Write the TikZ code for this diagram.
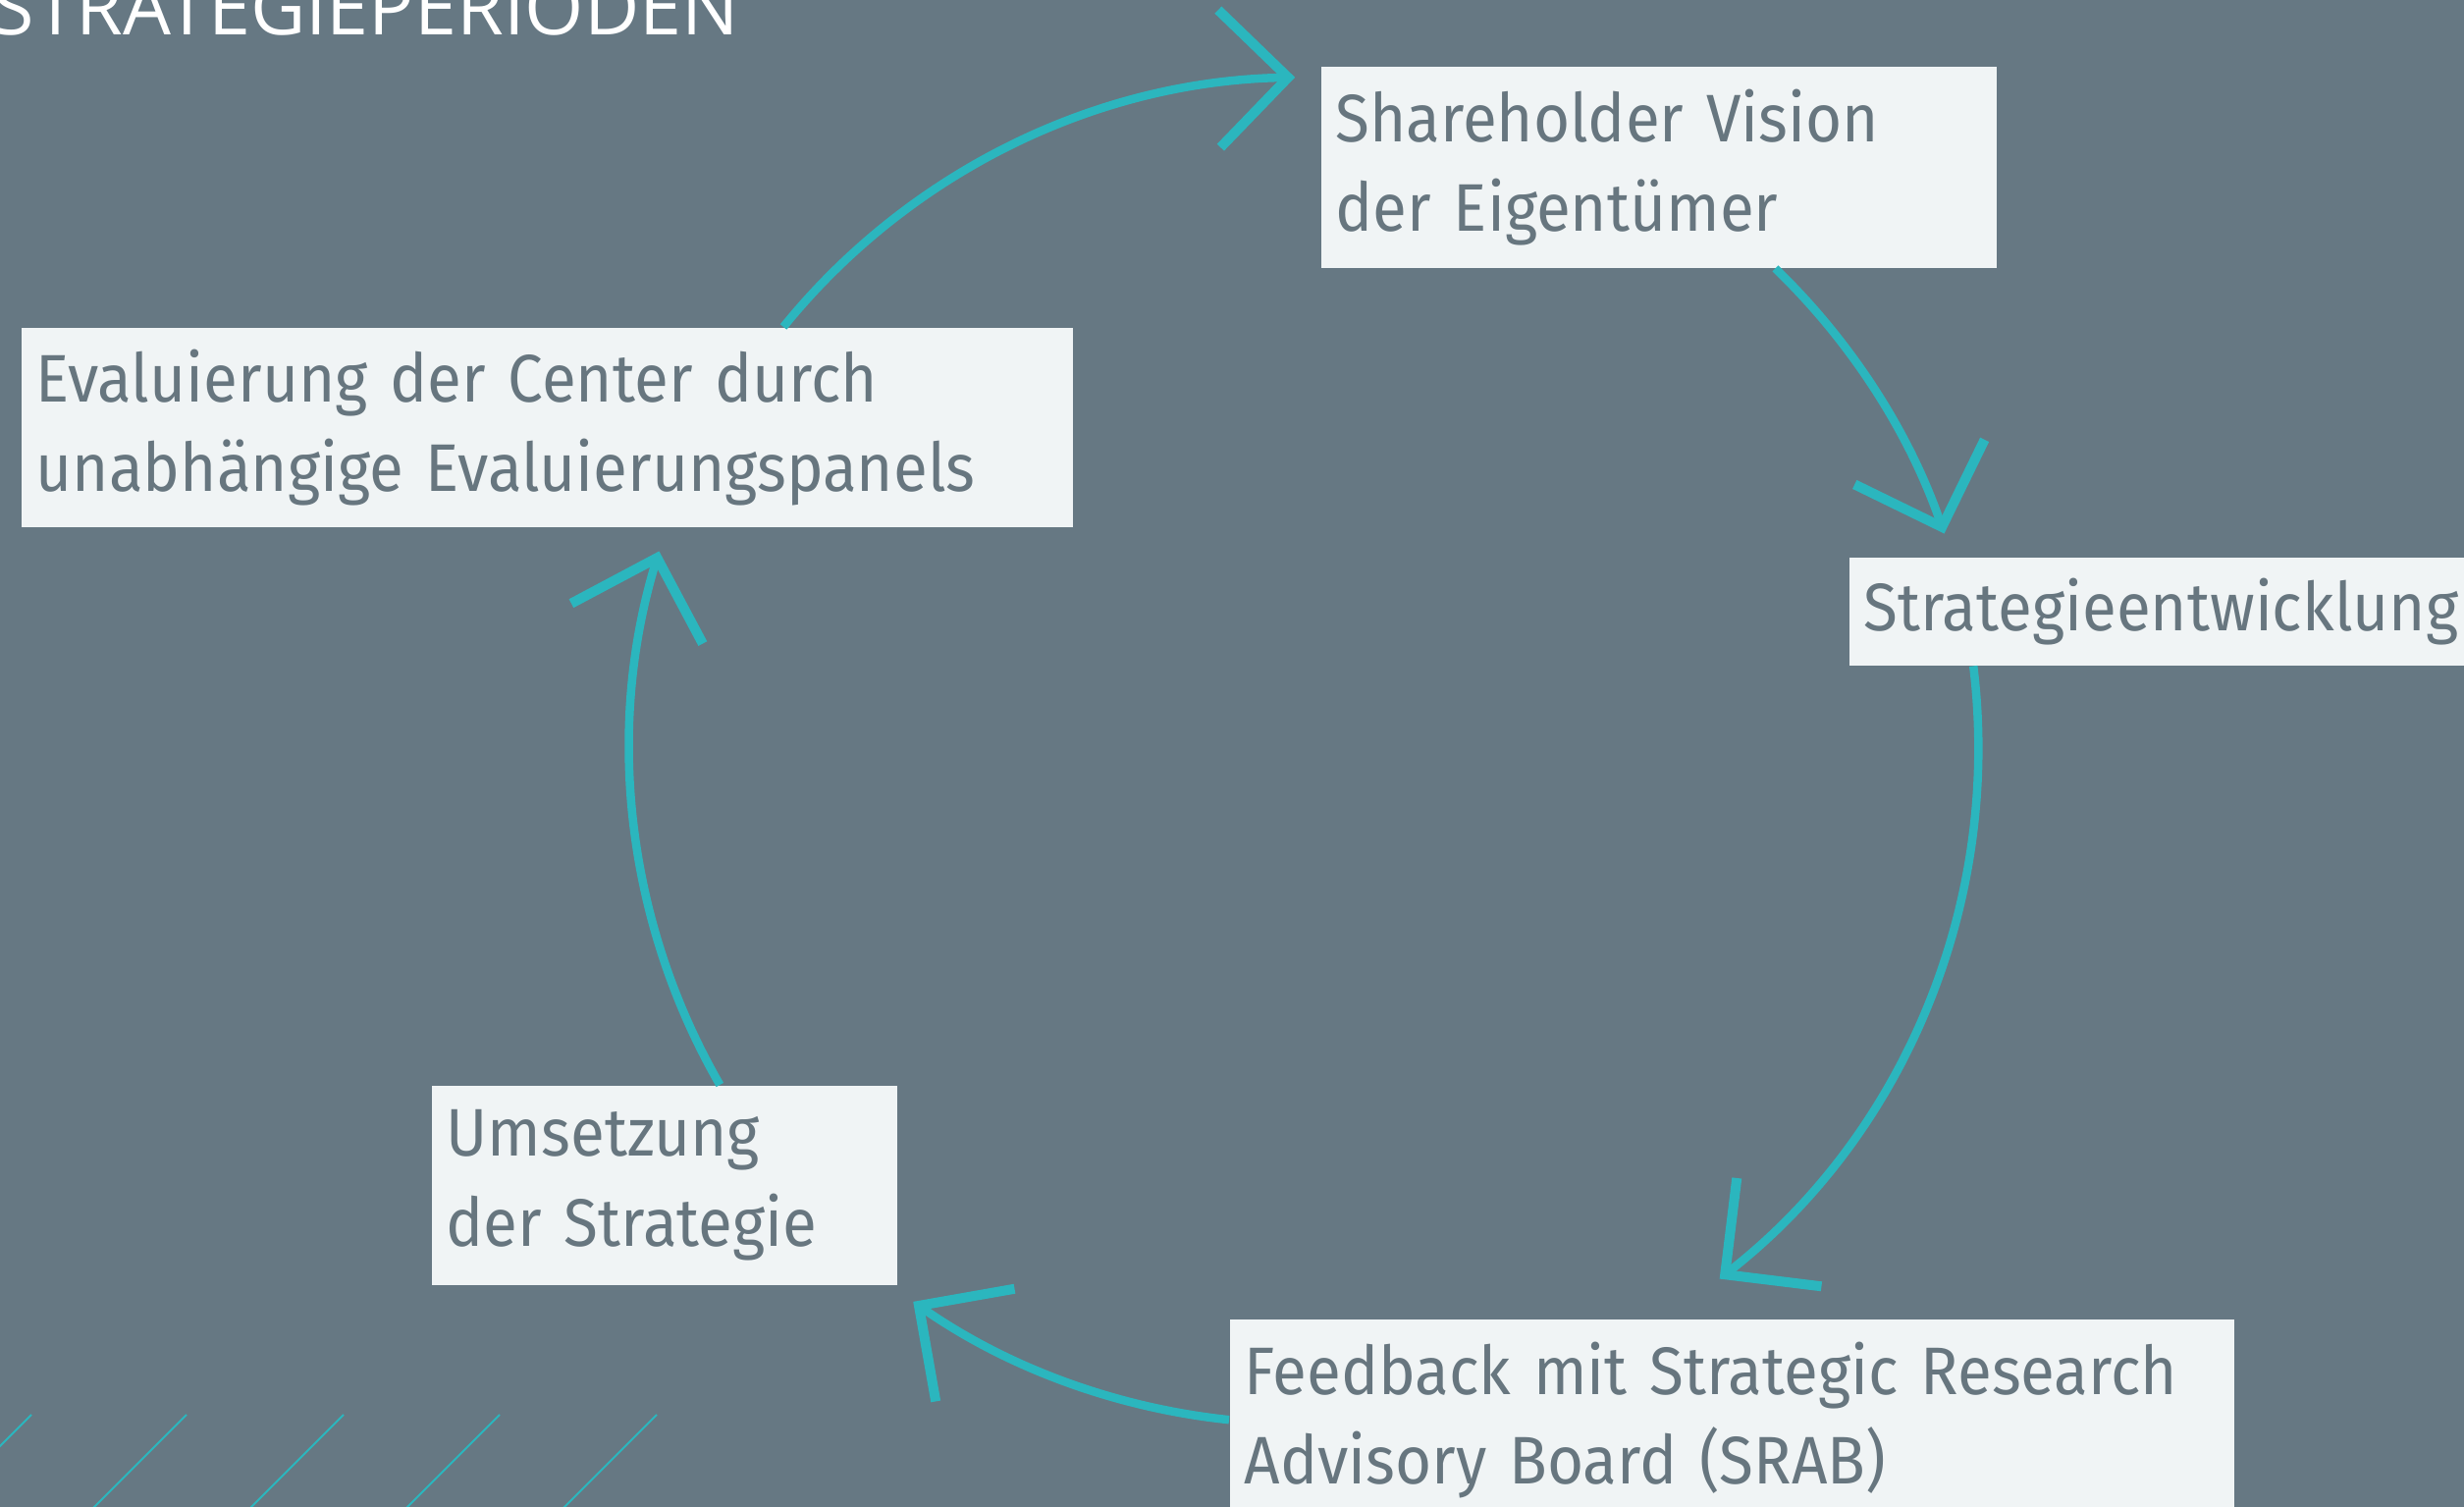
\documentclass[tikz,border=0pt]{standalone}
\usepackage{fontspec}
\setmainfont{Fira Sans}[FakeStretch=0.93]
\newfontfamily\titlefont{Open Sans}
\usetikzlibrary{arrows.meta, calc}
\hyphenpenalty=10000

\definecolor{slate}{HTML}{667883}
\definecolor{ringcyan}{HTML}{2BB6BE}
\definecolor{boxfill}{HTML}{F0F4F5}
\definecolor{boxtext}{HTML}{67767F}

\begin{document}
\begin{tikzpicture}[>={Straight Barb[length=0.7cm, width=1.4cm, line width=0.1cm]},
    stage/.style={fill=boxfill, text=boxtext, anchor=north west, align=left,
        inner xsep=0.15cm, font=\fontsize{19.5}{25.9}\selectfont},
    flow/.style={->, ringcyan, line width=0.085cm}]
    % === Background ===
    \fill[slate] (0,0) rectangle (25.1,15.35);
    \useasboundingbox (0,0) rectangle (25.1,15.35);
    \clip (0,0) rectangle (25.1,15.35);

    % Title (cut off at the top edge)
    \node[anchor=base west, text=white, inner sep=0,
        font=\titlefont\fontsize{22}{26}\selectfont] (title) at (-0.08,14.99) {STRATEGIEPERIODEN};

    % === Stages of the cycle ===
    \node[stage, text width=10.41cm, minimum height=2.03cm] (eval) at (0.21,12.02)
        {Evaluierung der Center durch\\unabhängige Evaluierungspanels};
    \node[stage, text width=6.58cm, minimum height=2.05cm] (share) at (13.45,14.68)
        {Shareholder Vision\\der Eigentümer};
    \node[stage, text width=6.7cm, minimum height=1.10cm] (strat) at (18.83,9.68)
        {Strategieentwicklung};
    \node[stage, text width=9.93cm, minimum height=2.05cm] (feed) at (12.52,1.92)
        {Feedback mit Strategic Research\\Advisory Board (SRAB)};
    \node[stage, text width=4.44cm, minimum height=2.03cm] (impl) at (4.39,4.30)
        {Umsetzung\\der Strategie};

    % === Cycle arrows (all on one circle) ===
    \def\R{6.86} % ring radius
    \draw[flow] (eval.23) arc[start angle=141, end angle=91, radius=\R];
    \draw[flow] (share.-41) arc[start angle=46, end angle=19, radius=\R];
    \draw[flow] (strat.-166) arc[start angle=7, end angle=-52, radius=\R];
    \draw[flow] (feed.west) arc[start angle=264, end angle=235, radius=\R];
    \draw[flow] (impl.61) arc[start angle=210, end angle=163, radius=\R];

    % Hatching, bottom left
    \foreach \x in {0.32,1.90,3.50,5.09,6.69}
        \draw[ringcyan, line width=0.02cm] (\x,0.94) -- ++(-1.2,-1.2);
\end{tikzpicture}
\end{document}
